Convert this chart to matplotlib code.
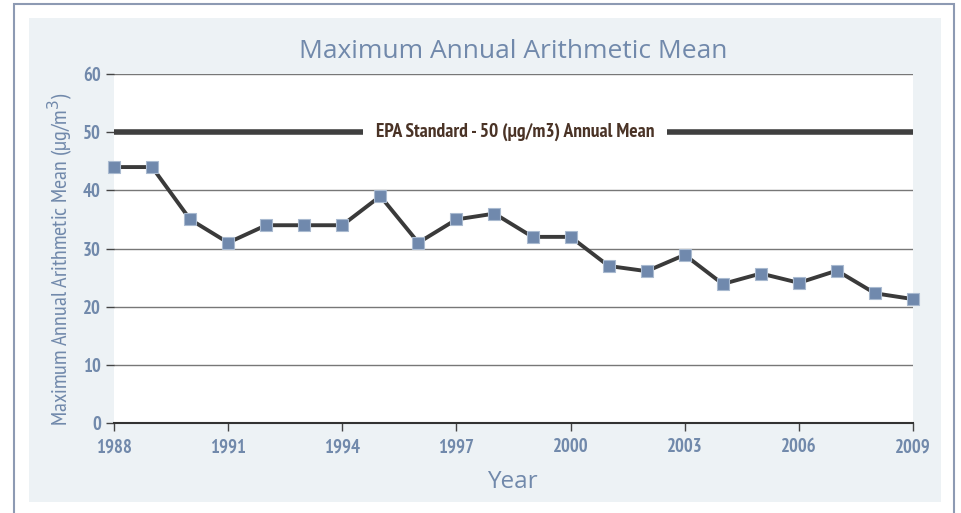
import matplotlib.pyplot as plt
from matplotlib.patches import Rectangle

years = [1988, 1989, 1990, 1991, 1992, 1993, 1994, 1995, 1996, 1997, 1998,
         1999, 2000, 2001, 2002, 2003, 2004, 2005, 2006, 2007, 2008, 2009]
means = [44, 44, 35, 31, 34, 34, 34, 39, 31, 35, 36,
         32, 32, 27, 26.1, 28.9, 23.9, 25.7, 24.1, 26.2, 22.3, 21.3]
x_ticks = [1988, 1991, 1994, 1997, 2000, 2003, 2006, 2009]
y_ticks = [0, 10, 20, 30, 40, 50, 60]
epa_standard = 50

txt_col = '#7189ab'
narrow = ['PT Sans Narrow', 'DejaVu Sans']
plain = ['Open Sans', 'DejaVu Sans']

fig = plt.figure(figsize=(9.61, 5.13), dpi=100)
fig.patch.set_facecolor('white')

# outer border and light panel, behind the axes
fig.patches.append(Rectangle((14/961, -0.05), 940/961, 1.05 - 4/513, transform=fig.transFigure,
                             fill=False, edgecolor='#8d9ab3', linewidth=1.5, zorder=-2))
fig.patches.append(Rectangle((29/961, 1 - 502/513), 912/961, 484/513, transform=fig.transFigure,
                             facecolor='#edf2f5', edgecolor='none', zorder=-1))

ax = fig.add_axes([114/961, 1 - 423/513, 799/961, 349/513])
ax.set_facecolor('white')

ax.plot(years, means, color='#3a3a3a', linewidth=2.8, marker='s', markersize=8.5,
        markerfacecolor='#7089ad', markeredgecolor='#a9bad0', markeredgewidth=0.8, zorder=4,
        clip_on=False)

ax.axhline(epa_standard, color='#3f3f3f', linewidth=4, zorder=2)
ax.text(1998.54, epa_standard, 'EPA Standard - 50 (µg/m3) Annual Mean', ha='center', va='center',
        fontsize=14, fontweight='bold', color='#4a3326', family=narrow, zorder=3,
        bbox=dict(facecolor='white', edgecolor='none', pad=9))

ax.set_xlim(1988, 2009)
ax.set_ylim(0, 60)
ax.set_xticks(x_ticks)
ax.set_yticks(y_ticks)
ax.grid(axis='y', color='#777777', linewidth=1)
ax.set_axisbelow(True)
for s in ['left', 'right', 'top']:
    ax.spines[s].set_visible(False)
ax.spines['bottom'].set_color('#333333')
ax.spines['bottom'].set_linewidth(1.5)
ax.spines['bottom'].set_zorder(5)
ax.tick_params(axis='both', colors='#444444', length=6, width=1, labelcolor=txt_col)
ax.tick_params(axis='x', pad=5)
for lab in ax.get_xticklabels() + ax.get_yticklabels():
    lab.set_family(narrow)
    lab.set_fontweight('bold')
    lab.set_fontsize(13.5)

fig.text(513/961, 1 - 58/513, 'Maximum Annual Arithmetic Mean', ha='center', va='baseline',
         fontsize=19, color=txt_col, family=plain)
fig.text(512/961, 1 - 488/513, 'Year', ha='center', va='baseline',
         fontsize=17.5, color=txt_col, family=plain)
fig.text(60/961, 1 - 259/513, 'Maximum Annual Arithmetic Mean (µg/m$^3$)', ha='center', va='center',
         rotation=90, fontsize=16, color=txt_col, family=narrow)

fig.savefig('out.png', dpi=100)
